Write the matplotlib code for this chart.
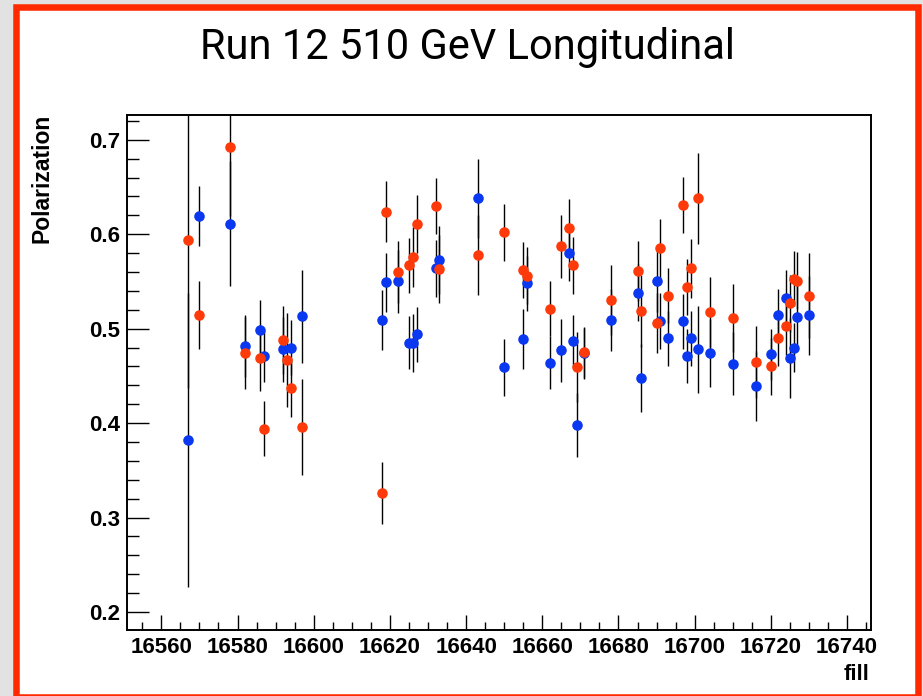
import matplotlib.pyplot as plt
from matplotlib.patches import Rectangle
from matplotlib.ticker import MultipleLocator

# blue beam: fill number, polarization, uncertainty
blue_fill = [16567, 16570, 16578, 16582, 16586, 16587, 16592, 16594, 16597,
             16618, 16619, 16622, 16625, 16626, 16627, 16632, 16633, 16643,
             16650, 16655, 16656, 16662, 16665, 16667, 16668, 16669, 16671,
             16678, 16685, 16686, 16690, 16691, 16693, 16697, 16698, 16699,
             16701, 16704, 16710, 16716, 16720, 16722, 16724, 16725, 16726,
             16727, 16730]
blue_pol = [0.382, 0.619, 0.611, 0.482, 0.499, 0.471, 0.478, 0.480, 0.513,
            0.509, 0.549, 0.550, 0.485, 0.485, 0.494, 0.564, 0.573, 0.638,
            0.459, 0.489, 0.548, 0.464, 0.477, 0.580, 0.487, 0.398, 0.474,
            0.509, 0.538, 0.448, 0.550, 0.508, 0.490, 0.508, 0.471, 0.490,
            0.478, 0.474, 0.463, 0.439, 0.473, 0.514, 0.532, 0.469, 0.480,
            0.512, 0.514]
blue_err = [0.156, 0.032, 0.066, 0.033, 0.031, 0.027, 0.034, 0.029, 0.049,
            0.032, 0.031, 0.033, 0.028, 0.031, 0.029, 0.030, 0.036, 0.042,
            0.030, 0.032, 0.029, 0.028, 0.033, 0.029, 0.028, 0.034, 0.027,
            0.033, 0.030, 0.036, 0.032, 0.030, 0.029, 0.029, 0.029, 0.029,
            0.046, 0.036, 0.033, 0.037, 0.027, 0.028, 0.030, 0.042, 0.026,
            0.036, 0.042]

# yellow beam (drawn red)
red_fill = [16567, 16570, 16578, 16582, 16586, 16587, 16592, 16593, 16594,
            16597, 16618, 16619, 16622, 16625, 16626, 16627, 16632, 16633,
            16643, 16650, 16655, 16656, 16662, 16665, 16667, 16668, 16669,
            16671, 16678, 16685, 16686, 16690, 16691, 16693, 16697, 16698,
            16699, 16701, 16704, 16710, 16716, 16720, 16722, 16724, 16725,
            16726, 16727, 16730]
red_pol = [0.594, 0.514, 0.692, 0.474, 0.469, 0.394, 0.488, 0.467, 0.437,
           0.396, 0.326, 0.624, 0.560, 0.567, 0.576, 0.611, 0.630, 0.563,
           0.578, 0.602, 0.562, 0.556, 0.521, 0.587, 0.607, 0.567, 0.459,
           0.475, 0.530, 0.561, 0.519, 0.506, 0.585, 0.535, 0.631, 0.544,
           0.564, 0.638, 0.518, 0.511, 0.465, 0.460, 0.490, 0.503, 0.527,
           0.553, 0.551, 0.535]
red_err = [0.157, 0.036, 0.073, 0.038, 0.035, 0.029, 0.036, 0.050, 0.031,
           0.051, 0.033, 0.032, 0.033, 0.029, 0.032, 0.031, 0.030, 0.036,
           0.042, 0.030, 0.030, 0.030, 0.029, 0.033, 0.030, 0.030, 0.037,
           0.027, 0.037, 0.032, 0.038, 0.032, 0.031, 0.029, 0.030, 0.030,
           0.031, 0.048, 0.037, 0.036, 0.038, 0.030, 0.030, 0.031, 0.030,
           0.029, 0.030, 0.045]

W, H = 923, 696
fig = plt.figure(figsize=(W / 100, H / 100), dpi=100)
fig.patch.set_facecolor('#e2e2e2')

# white slide panel with the red border, kept behind the axes
panel = Rectangle((15.9 / W, 1 - 696.8 / H), (918.3 - 15.9) / W, (696.8 - 7.3) / H,
                  transform=fig.transFigure, facecolor='white', edgecolor='#ff2a00',
                  linewidth=4.7, zorder=-10)
fig.patches.append(panel)

ax = fig.add_axes([126.7 / W, 1 - 630 / H, (871 - 126.7) / W, (630 - 115.2) / H])
ax.set_zorder(5)
ax.set_facecolor('white')

ax.errorbar(blue_fill, blue_pol, yerr=blue_err, fmt='o', color='#0a37f0',
            markersize=7.6, ecolor='black', elinewidth=1.0, capsize=4,
            capthick=1.0, markeredgewidth=0)
ax.errorbar(red_fill, red_pol, yerr=red_err, fmt='o', color='#ff3a0a',
            markersize=7.6, ecolor='black', elinewidth=1.0, capsize=4,
            capthick=1.0, markeredgewidth=0)

ax.set_xlim(16550.9, 16746.3)
ax.set_ylim(0.181, 0.726)

ax.xaxis.set_major_locator(MultipleLocator(20))
ax.xaxis.set_minor_locator(MultipleLocator(5))
ax.yaxis.set_major_locator(MultipleLocator(0.1))
ax.yaxis.set_minor_locator(MultipleLocator(0.02))

lab = dict(family='Liberation Sans', weight='bold', size=16)
ax.tick_params(axis='both', which='both', direction='in', color='black',
               top=False, right=False)
ax.tick_params(axis='x', which='major', length=10.8, width=1.0, pad=5.0)
ax.tick_params(axis='x', which='minor', length=6.0, width=1.0)
ax.tick_params(axis='y', which='major', length=15.6, width=1.0, pad=4.5)
ax.tick_params(axis='y', which='minor', length=8.4, width=1.0)
ax.set_xticks(range(16560, 16741, 20))
ax.set_xticklabels([str(v) for v in range(16560, 16741, 20)], **lab)
ax.set_yticks([0.2, 0.3, 0.4, 0.5, 0.6, 0.7])
ax.set_yticklabels(['0.2', '0.3', '0.4', '0.5', '0.6', '0.7'], **lab)

for s in ax.spines.values():
    s.set_linewidth(1.4)
    s.set_color('black')

fig.text(41.5 / W, 1 - 114 / H, 'Polarization', rotation=90, ha='center',
         va='top', family='Liberation Sans', weight='bold', size=16.5)
fig.text(870 / W, 1 - 675 / H, 'fill', ha='right', va='center',
         family='Liberation Sans', weight='bold', size=16)

fig.text(467 / W, 1 - 48 / H, 'Run 12 510 GeV Longitudinal', ha='center',
         va='center', family='Roboto', weight='normal', size=30)

fig.savefig('out.png', dpi=100, facecolor=fig.get_facecolor())
